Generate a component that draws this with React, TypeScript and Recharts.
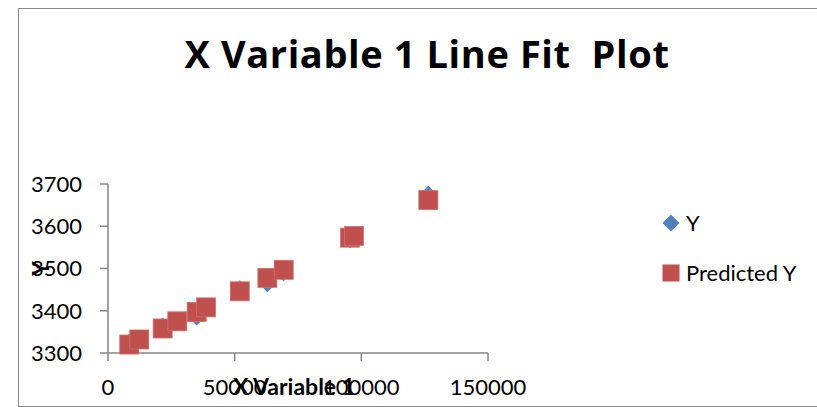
import React from 'react'
import { ScatterChart, Scatter, XAxis, YAxis, Legend } from 'recharts'

const xValues = [8400, 12350, 21580, 27360, 35000, 38700, 52000, 62900, 69350, 95530, 97100, 126450]
const yActual = [3327, 3336, 3365, 3373, 3384, 3406, 3453, 3463, 3489, 3567, 3580, 3677]
const yPredicted = [3320, 3332, 3358, 3375, 3397, 3408, 3446, 3478, 3497, 3573, 3577, 3662]
const xTicks = [0, 50000, 100000, 150000]
const yTicks = [3300, 3400, 3500, 3600, 3700]

const actualData = xValues.map((x, i) => ({ x, y: yActual[i] }))
const predictedData = xValues.map((x, i) => ({ x, y: yPredicted[i] }))

const FONT = 'Lato, "Open Sans", sans-serif'
const BLUE = '#4F81BD'
const RED = '#C0504D'
const AXIS = '#868686'

const Diamond = (props: any) => {
  const { cx, cy } = props
  const r = 8
  return <path d={`M${cx},${cy - r}L${cx + r},${cy}L${cx},${cy + r}L${cx - r},${cy}Z`} fill={BLUE} />
}

const Square = (props: any) => {
  const { cx, cy } = props
  const s = 19
  return <rect x={cx - s / 2} y={cy - s / 2} width={s} height={s} fill={RED} stroke="#D0706D" strokeWidth={0.8} />
}

const LegendBox = () => (
  <div style={{ fontFamily: FONT, fontSize: 22, color: '#000', lineHeight: '26px' }}>
    <div style={{ display: 'flex', alignItems: 'center', height: 26 }}>
      <svg width={20} height={20} style={{ marginRight: 5 }}>
        <path d="M10,1.5L18.5,10L10,18.5L1.5,10Z" fill={BLUE} />
      </svg>
      <span>Y</span>
    </div>
    <div style={{ display: 'flex', alignItems: 'center', height: 26, marginTop: 24 }}>
      <svg width={20} height={20} style={{ marginRight: 5 }}>
        <rect x={1.5} y={1.5} width={17} height={17} fill={RED} />
      </svg>
      <span>Predicted Y</span>
    </div>
  </div>
)

const YTitle = (props: any) => {
  const { x, y, height } = props.viewBox
  const cx = x + 22
  const cy = y + height / 2
  return (
    <text x={cx} y={cy} textAnchor="middle" dominantBaseline="central" transform={`rotate(-90, ${cx}, ${cy})`}
      fontFamily={FONT} fontSize={22} fontWeight="bold" fill="#000">Y</text>
  )
}

const XTitle = (props: any) => {
  const { x, y, width } = props.viewBox
  return (
    <text x={x + width / 2 - 4} y={y + 42} textAnchor="middle" fontFamily={FONT} fontSize={23} fontWeight="bold" fill="#000">
      X Variable 1
    </text>
  )
}

export default function App() {
  return (
    <div style={{ position: 'absolute', left: 0, top: 0, width: 817, height: 407, background: '#fff', overflow: 'hidden' }}>
      <div style={{ position: 'absolute', left: 18, top: 8, width: 830, height: 397, border: '1.5px solid #898989' }} />
      <div style={{ position: 'absolute', left: 0, width: 854, top: 27, textAlign: 'center', fontFamily: '"Open Sans", Lato, sans-serif', fontWeight: 'bold', fontSize: 38, letterSpacing: 0.6, whiteSpace: 'pre', color: '#000' }}>
        X Variable 1 Line Fit  Plot
      </div>
      <ScatterChart width={817} height={407} margin={{ top: 184, right: 329, bottom: 0, left: 18 }} style={{ position: 'absolute', left: 0, top: 0 }}>
        <XAxis type="number" dataKey="x" domain={[0, 150000]} ticks={xTicks} height={54}
          stroke={AXIS} strokeWidth={1.5} tickSize={8} tickMargin={18}
          tick={{ fill: '#000', fontSize: 22, fontFamily: FONT }} label={<XTitle />} />
        <YAxis type="number" dataKey="y" domain={[3300, 3700]} ticks={yTicks} width={90}
          stroke={AXIS} strokeWidth={1.5} tickSize={8} tickMargin={18}
          tick={{ fill: '#000', fontSize: 22, fontFamily: FONT }} label={<YTitle />} />
        <Legend layout="vertical" align="center" verticalAlign="middle" content={<LegendBox />}
          wrapperStyle={{ left: 661, top: 210, width: 160 }} />
        <Scatter name="Y" data={actualData} fill={BLUE} shape={<Diamond />} isAnimationActive={false} />
        <Scatter name="Predicted Y" data={predictedData} fill={RED} shape={<Square />} isAnimationActive={false} />
      </ScatterChart>
    </div>
  )
}
